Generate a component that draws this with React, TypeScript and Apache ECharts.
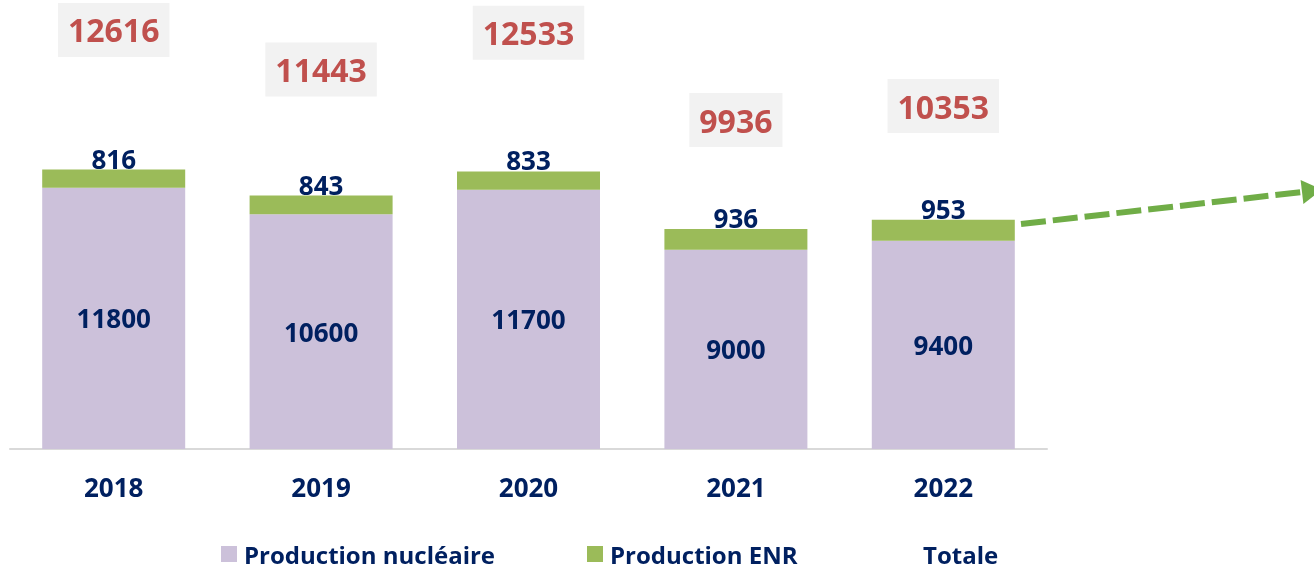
import React, { useEffect, useRef } from "react";
import * as echarts from "echarts";

const years = ["2018", "2019", "2020", "2021", "2022"];
const nuclear = [11800, 10600, 11700, 9000, 9400];
const enr = [816, 843, 833, 936, 953];
const totals = [12616, 11443, 12533, 9936, 10353];

const NAVY = "#002060";
const FONT = "'Open Sans', sans-serif";

export default function App() {
  const ref = useRef<HTMLDivElement>(null);
  useEffect(() => {
    if (!ref.current) return;
    const chart = echarts.init(ref.current, null, { renderer: "svg" });
    const legendText = { color: NAVY, fontSize: 24, lineHeight: 22, fontWeight: "bold", fontFamily: FONT, padding: [0, 0, 0, 2] };
    const leg = { top: 542, itemWidth: 16, itemHeight: 16, textStyle: legendText, selectedMode: false, padding: 0 };
    chart.setOption({
      animation: false,
      textStyle: { fontFamily: FONT },
      grid: { left: 10, right: 267, top: 6, bottom: 121 },
      legend: [
        { ...leg, data: [{ name: "Production nucléaire", icon: "rect" }], left: 221 },
        { ...leg, data: [{ name: "Production ENR", icon: "rect" }], left: 587 },
        { ...leg, data: [{ name: "Totale", icon: "rect" }], left: 900 },
      ],
      xAxis: {
        type: "category",
        data: years,
        axisTick: { show: false },
        axisLine: { lineStyle: { color: "#d9d9d9", width: 2 } },
        axisLabel: { color: NAVY, fontSize: 26, fontWeight: "bold", fontFamily: FONT, margin: 25 },
      },
      yAxis: [
        { type: "value", show: false, min: 0, max: 20000, splitLine: { show: false } },
        { type: "value", show: false, min: 150, max: 13330, splitLine: { show: false } },
      ],
      series: [
        {
          name: "Production nucléaire",
          type: "bar",
          stack: "p",
          barWidth: 143,
          data: nuclear,
          itemStyle: { color: "#ccc1da" },
          label: { show: true, position: "inside", color: NAVY, fontSize: 26, fontWeight: "bold", fontFamily: FONT },
        },
        {
          name: "Production ENR",
          type: "bar",
          stack: "p",
          barWidth: 143,
          data: enr,
          itemStyle: { color: "#9bbb59" },
          label: { show: true, position: "top", distance: -2, color: NAVY, fontSize: 26, fontWeight: "bold", fontFamily: FONT },
        },
        {
          name: "Totale",
          type: "line",
          yAxisIndex: 1,
          data: totals,
          symbol: "circle",
          symbolSize: 1,
          itemStyle: { color: "rgba(0,0,0,0)" },
          lineStyle: { opacity: 0 },
          label: {
            show: true,
            position: "inside",
            color: "#c0504d",
            fontSize: 32,
            fontWeight: "bold",
            fontFamily: FONT,
            backgroundColor: "#f2f2f2",
            padding: [10, 10],
            lineHeight: 34,
          },
        },
      ],
      graphic: [
        {
          type: "line",
          shape: { x1: 1021, y1: 224, x2: 1302, y2: 192 },
          style: { stroke: "#70ad47", lineWidth: 6, lineDash: [25, 7] },
        },
        {
          type: "polygon",
          shape: { points: [[1300.6, 180], [1303.4, 204], [1322, 189.7]] },
          style: { fill: "#70ad47" },
        },
      ],
    });
    return () => chart.dispose();
  }, []);
  return <div ref={ref} style={{ position: "fixed", left: 0, top: 0, width: 1314, height: 570 }} />;
}
